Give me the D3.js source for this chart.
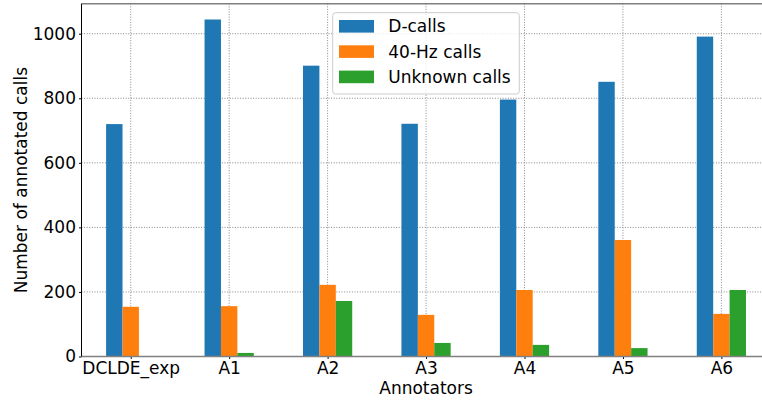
<!DOCTYPE html>
<html>
<head>
<meta charset="utf-8">
<script src="https://cdn.jsdelivr.net/npm/d3@7"></script>
<style>
  html, body { margin: 0; padding: 0; background: #fff; }
  svg { display: block; font-family: "DejaVu Sans", sans-serif; }
</style>
</head>
<body>
<svg id="chart" width="762" height="402"></svg>
<script>
const categories = ["DCLDE_exp", "A1", "A2", "A3", "A4", "A5", "A6"];
const seriesNames = ["D-calls", "40-Hz calls", "Unknown calls"];
const dCalls = [720, 1044, 901, 721, 796, 851, 991];
const hzCalls = [154, 156, 222, 129, 206, 361, 132];
const unknownCalls = [0, 11, 172, 42, 36, 26, 206];
const yTicks = [0, 200, 400, 600, 800, 1000];
const colors = ["#1f77b4", "#ff7f0e", "#2ca02c"];
const series = [dCalls, hzCalls, unknownCalls];

(function () {
const svg = d3.select("#chart");
const mLeft = 81.5, mRight = 770.6, mTop = 3.7, mBottom = 356.5;
const fs = 17;

const x = d3.scaleLinear().domain([-0.5, categories.length - 0.5]).range([mLeft, mRight]);
const y = d3.scaleLinear().domain([0, 1093]).range([mBottom, mTop]);

const barW = 0.5 / 3;

// grid
const grid = svg.append("g");
grid.selectAll("line.h").data(yTicks).join("line")
  .attr("x1", mLeft).attr("x2", mRight)
  .attr("y1", d => y(d)).attr("y2", d => y(d))
  .attr("stroke", "#888").attr("stroke-width", 1).attr("stroke-dasharray", "1,1.6");
grid.selectAll("line.v").data(categories).join("line")
  .attr("x1", (d, i) => x(i)).attr("x2", (d, i) => x(i))
  .attr("y1", mTop).attr("y2", mBottom)
  .attr("stroke", "#888").attr("stroke-width", 1).attr("stroke-dasharray", "1,1.6");

// bars
series.forEach((vals, s) => {
  svg.append("g").selectAll("rect").data(vals).join("rect")
    .attr("x", (d, i) => x(i + (s - 1) * barW - barW / 2))
    .attr("width", x(barW) - x(0))
    .attr("y", d => y(d))
    .attr("height", d => y(0) - y(d))
    .attr("fill", colors[s]);
});

// axes
const xAxis = d3.axisBottom(x).tickValues(d3.range(categories.length))
  .tickFormat(i => categories[i]).tickSize(2.5).tickPadding(3);
const gx = svg.append("g").attr("transform", `translate(0,${mBottom})`).call(xAxis);
gx.select(".domain").remove();
gx.selectAll("text").attr("font-size", fs).attr("fill", "#000").attr("font-family", "DejaVu Sans");
gx.selectAll("line").attr("stroke", "#000");

const yAxis = d3.axisLeft(y).tickValues(yTicks).tickFormat(d3.format("d")).tickSize(2.5).tickPadding(3);
const gy = svg.append("g").attr("transform", `translate(${mLeft},0)`).call(yAxis);
gy.select(".domain").remove();
gy.selectAll("text").attr("font-size", fs).attr("fill", "#000").attr("font-family", "DejaVu Sans");
gy.selectAll("line").attr("stroke", "#000");

// spines
svg.append("line").attr("x1", mLeft).attr("x2", mRight).attr("y1", mTop).attr("y2", mTop)
  .attr("stroke", "#808080").attr("stroke-width", 1.6);
svg.append("line").attr("x1", mLeft).attr("x2", mRight).attr("y1", mBottom).attr("y2", mBottom)
  .attr("stroke", "#808080").attr("stroke-width", 1.6);
svg.append("line").attr("x1", mLeft).attr("x2", mLeft).attr("y1", mTop).attr("y2", mBottom)
  .attr("stroke", "#000").attr("stroke-width", 1);

// labels
svg.append("text").attr("x", (mLeft + mRight) / 2).attr("y", 394.3)
  .attr("text-anchor", "middle").attr("font-size", fs).text("Annotators");
svg.append("text").attr("transform", `translate(26.5,${(mTop + mBottom) / 2}) rotate(-90)`)
  .attr("text-anchor", "middle").attr("font-size", fs).text("Number of annotated calls");

// legend
const lg = svg.append("g");
lg.append("rect").attr("x", 332.7).attr("y", 12.7).attr("width", 186.6).attr("height", 81.3)
  .attr("rx", 3).attr("fill", "#fff").attr("fill-opacity", 0.8)
  .attr("stroke", "#cccccc").attr("stroke-width", 1);
seriesNames.forEach((name, i) => {
  const cy = 26.3 + i * 25.3;
  lg.append("rect").attr("x", 339).attr("y", cy - 6.3).attr("width", 35).attr("height", 12.6)
    .attr("fill", colors[i]);
  lg.append("text").attr("x", 388.3).attr("y", cy).attr("dy", "0.35em")
    .attr("font-size", fs).text(name);
});
})();
</script>
</body>
</html>
